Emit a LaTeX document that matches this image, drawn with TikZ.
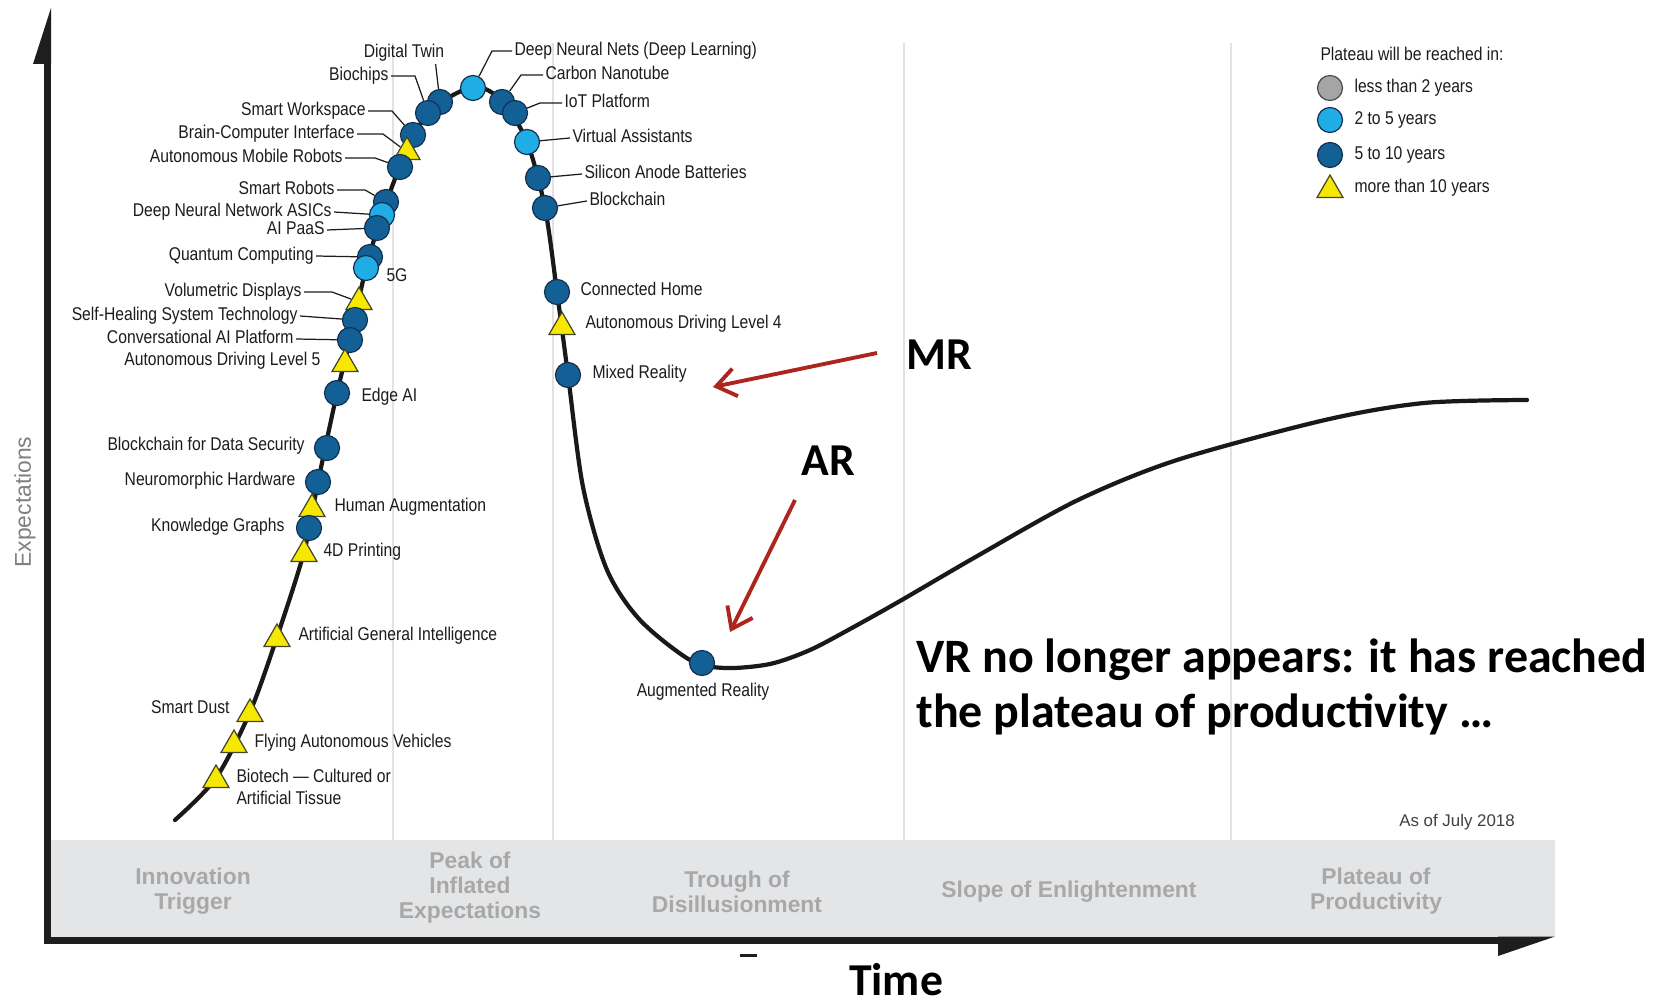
\documentclass[tikz,border=0pt]{standalone}
\usepackage{fontspec}
\setmainfont{Liberation Sans}
\newfontfamily\narrowfont[FakeStretch=0.85]{Liberation Sans}
\newfontfamily\calfont{Carlito}
\usetikzlibrary{shapes.geometric,arrows.meta,calc}
\pgfdeclarelayer{bg}
\pgfsetlayers{bg,main}

\definecolor{dkblue}{RGB}{18,96,150}
\definecolor{ltblue}{RGB}{32,172,228}
\definecolor{mkline}{RGB}{20,50,80}
\definecolor{triyel}{RGB}{246,232,0}
\definecolor{triline}{RGB}{70,70,40}
\definecolor{legray}{RGB}{165,165,165}
\definecolor{labgray}{RGB}{28,28,28}
\definecolor{phasegray}{RGB}{168,168,168}
\definecolor{bandgray}{RGB}{228,229,231}
\definecolor{gridgray}{RGB}{226,226,226}
\definecolor{arrowred}{RGB}{172,38,30}
\definecolor{axisblack}{RGB}{30,30,30}

\tikzset{
  dot/.style={circle, draw=mkline, line width=0.7pt, minimum size=0.5cm, inner sep=0pt},
  dk/.style={dot, fill=dkblue},
  lt/.style={dot, fill=ltblue},
  gy/.style={dot, fill=legray, draw=black!70},
  tri/.style={regular polygon, regular polygon sides=3, draw=triline, fill=triyel,
    line width=0.7pt, minimum size=0.6cm, inner sep=0pt},
  lab/.style={font=\narrowfont\fontsize{10.5}{12}\selectfont, text=labgray,
    inner sep=0pt, outer sep=0.05cm},
  labL/.style={lab, anchor=mid east},
  labR/.style={lab, anchor=mid west},
  lead/.style={draw=labgray, line width=0.7pt},
  phase/.style={font=\bfseries\fontsize{13}{14.2}\selectfont, text=phasegray, align=center},
  big/.style={font=\calfont\bfseries\fontsize{26}{31}\selectfont, inner sep=0pt},
  bigger/.style={font=\calfont\bfseries\fontsize{27.3}{33}\selectfont, inner sep=0pt},
  hype/.style={draw=black!90, line width=2.4pt, line join=round, line cap=round},
  redarr/.style={draw=arrowred, line width=2.2pt,
    -{Straight Barb[length=11pt,width=16pt]}},
  vline/.style={draw=gridgray, line width=0.8pt},
}

\begin{document}
\begin{tikzpicture}[x=0.02cm, y=-0.02cm]
\useasboundingbox (0,0) rectangle (1655,1006);

% ---- technology markers (upper ones first, lower ones overlap them) ----
\node[dk]  (mDT)       at (440,102) {};
\node[dk]  (mBiochips) at (428,113) {};
\node[dk]  (mSW)       at (413,135) {};
\node[tri] (mBCI)      at (407,152) {};
\node[dk]  (mAMR)      at (400,167) {};
\node[dk]  (mSR)       at (386,202) {};
\node[lt]  (mASICs)    at (382,215) {};
\node[dk]  (mAIPaaS)   at (377,228) {};
\node[dk]  (mQC)       at (370,257) {};
\node[lt]  (m5G)       at (366,268) {};
\node[tri] (mVD)       at (359,302) {};
\node[dk]  (mSH)       at (355,320) {};
\node[dk]  (mConv)     at (350,340) {};
\node[tri] (mADL5)     at (345,364) {};
\node[dk]  (mEdge)     at (337,393) {};
\node[dk]  (mBDS)      at (327,448) {};
\node[dk]  (mNH)       at (318,482) {};
\node[tri] (mHA)       at (312,509) {};
\node[dk]  (mKG)       at (309,528) {};
\node[tri] (m4D)       at (304,554) {};
\node[tri] (mAGI)      at (277,639) {};
\node[tri] (mSD)       at (250,714) {};
\node[tri] (mFly)      at (234,745) {};
\node[tri] (mBio)      at (216,780) {};

\node[lt]  (mDNN)      at (473,88) {};
\node[dk]  (mCN)       at (502,102) {};
\node[dk]  (mIoT)      at (515,113) {};
\node[lt]  (mVA)       at (527,142) {};
\node[dk]  (mSAB)      at (538,178) {};
\node[dk]  (mBC)       at (545,208) {};
\node[dk]  (mCH)       at (557,292) {};
\node[tri] (mADL4)     at (562,327) {};
\node[dk]  (mMR)       at (568,375) {};
\node[dk]  (mAR)       at (702,663) {};

% ---- technology labels ----
\node[lab]  (lDT)       at (404,53)  {Digital Twin};
\node[labL] (lBiochips) at (391,76)  {Biochips};
\node[labL] (lSW)       at (368,111) {Smart Workspace};
\node[labL] (lBCI)      at (357,134) {Brain-Computer Interface};
\node[labL] (lAMR)      at (345,158) {Autonomous Mobile Robots};
\node[labL] (lSR)       at (337,190) {Smart Robots};
\node[labL] (lASICs)    at (334,212) {Deep Neural Network ASICs};
\node[labL] (lAIPaaS)   at (327,230) {AI PaaS};
\node[labL] (lQC)       at (316,256) {Quantum Computing};
\node[labR] (l5G)       at (384,277) {5G};
\node[labL] (lVD)       at (304,292) {Volumetric Displays};
\node[labL] (lSH)       at (300,316) {Self-Healing System Technology};
\node[labL] (lConv)     at (296,339) {Conversational AI Platform};
\node[labL] (lADL5)     at (323,361) {Autonomous Driving Level 5};
\node[labR] (lEdge)     at (359,397) {Edge AI};
\node[labL] (lBDS)      at (307,446) {Blockchain for Data Security};
\node[labL] (lNH)       at (298,481) {Neuromorphic Hardware};
\node[labR] (lHA)       at (332,507) {Human Augmentation};
\node[labL] (lKG)       at (287,527) {Knowledge Graphs};
\node[labR] (l4D)       at (321,552) {4D Printing};
\node[labR] (lAGI)      at (296,636) {Artificial General Intelligence};
\node[labL] (lSD)       at (232,709) {Smart Dust};
\node[labR] (lFly)      at (252,743) {Flying Autonomous Vehicles};
\node[labR] (lBio)      at (234,778) {Biotech — Cultured or};
\node[labR] (lBio2)     at (234,800) {Artificial Tissue};

\node[labR] (lDNN)      at (512,51)  {Deep Neural Nets (Deep Learning)};
\node[labR] (lCN)       at (543,75)  {Carbon Nanotube};
\node[labR] (lIoT)      at (562,103) {IoT Platform};
\node[labR] (lVA)       at (570,138) {Virtual Assistants};
\node[labR] (lSAB)      at (582,174) {Silicon Anode Batteries};
\node[labR] (lBC)       at (587,201) {Blockchain};
\node[labR] (lCH)       at (578,291) {Connected Home};
\node[labR] (lADL4)     at (583,324) {Autonomous Driving Level 4};
\node[labR] (lMR)       at (590,374) {Mixed Reality};
\node[lab]  (lAR)       at (703,692) {Augmented Reality};

% ---- legend ----
\node[labR] (legT) at (1318,56) {Plateau will be reached in:};
\node[gy]  (lg1) at (1330,88)  {};
\node[lt]  (lg2) at (1330,120) {};
\node[dk]  (lg3) at (1330,155) {};
\node[tri] (lg4) at (1330,190) {};
\node[labR] (lgt1) at (1352,88)  {less than 2 years};
\node[labR] (lgt2) at (1352,120) {2 to 5 years};
\node[labR] (lgt3) at (1352,155) {5 to 10 years};
\node[labR] (lgt4) at (1352,188) {more than 10 years};

% ---- phases and axis texts ----
\node[phase] (ph1) at (193,891)  {Innovation\\Trigger};
\node[phase] (ph2) at (470,888)  {Peak of\\Inflated\\Expectations};
\node[phase] (ph3) at (737,892)  {Trough of\\Disillusionment};
\node[phase] (ph4) at (1069,892) {Slope of Enlightenment};
\node[phase] (ph5) at (1376,891) {Plateau of\\Productivity};
\node[font=\fontsize{9.6}{11}\selectfont, text=black!75, anchor=mid east, inner sep=0pt]
  (asof) at (1515,822) {As of July 2018};
\node[font=\fontsize{13}{15}\selectfont, text=black!50, rotate=90, inner sep=0pt]
  (ylab) at (25,502) {Expectations};
\node[big] (time) at (896,980) {Time};

% ---- annotations ----
\node[big, anchor=west] (tMR) at (906,355) {MR};
\node[big, anchor=west] (tAR) at (801,461) {AR};
\node[bigger, anchor=base west] (vr1) at (916,672) {VR no longer appears: it has reached};
\node[bigger, anchor=base west] (vr2) at (916,727) {the plateau of productivity …};
\coordinate (cMRtail) at (877,353);
\coordinate (cMRtip)  at (713,387);
\coordinate (cARtail) at (795,500);
\coordinate (cARtip)  at (730,632);
\draw[redarr] (cMRtail) -- (cMRtip);
\draw[redarr] (cARtail) -- (cARtip);

\begin{pgfonlayer}{bg}
  \fill[white] (0,0) rectangle (1655,1006);
  % phase separators
  \foreach \gx in {393,553,904,1231} \draw[vline] (\gx,43) -- (\gx,840);
  % phase band
  \fill[bandgray] (50,840) rectangle (1555,937);
  % axes
  \fill[axisblack] (44,62) rectangle (51,943.5);
  \fill[axisblack] (51,8) -- (51,64) -- (33,64) -- cycle;
  \fill[axisblack] (44,936.5) rectangle (1500,943.5);
  \fill[axisblack] (1498,936.5) -- (1555,936.5) -- (1498,956) -- cycle;
  \fill[axisblack] (740,954) rectangle (757,957);
  % hype cycle curve
  \draw[hype] plot[smooth, tension=0.5] coordinates {
    (175,820) (216,778) (250,712) (277,637) (304,552) (318,482) (337,393)
    (350,340) (366,268) (382,215) (400,167) (428,113) (473,87) (502,101)
    (527,142) (545,208) (557,292) (568,375) (583,487) (607,570) (640,620)
    (690,660) (725,668) (770,664) (810,650) (850,629) (900,601) (979,555)
    (1078,500) (1177,460) (1325,420) (1424,403) (1527,400)};
  % leader lines
  \draw[lead] ($(lDT.south east)+(-11,0)$) -- (mDT);
  \draw[lead] (lBiochips.mid east) -- ++(24,0) -- (mBiochips);
  \draw[lead] (lSW.mid east) -- ++(24,0) -- (mSW);
  \draw[lead] (lBCI.mid east) -- ++(26,0) -- (mBCI);
  \draw[lead] (lAMR.mid east) -- ++(30,0) -- (mAMR);
  \draw[lead] (lSR.mid east) -- ++(28,0) -- (mSR);
  \draw[lead] (lASICs.mid east) -- (mASICs);
  \draw[lead] (lAIPaaS.mid east) -- (mAIPaaS);
  \draw[lead] (lQC.mid east) -- (mQC);
  \draw[lead] (lVD.mid east) -- ++(28,0) -- (mVD);
  \draw[lead] (lSH.mid east) -- (mSH);
  \draw[lead] (lConv.mid east) -- (mConv);
  \draw[lead] (lDNN.mid west) -- ++(-20,0) -- (mDNN);
  \draw[lead] (lCN.mid west) -- ++(-22,0) -- (mCN);
  \draw[lead] (lIoT.mid west) -- ++(-22,0) -- (mIoT);
  \draw[lead] (lVA.mid west) -- (mVA);
  \draw[lead] (lSAB.mid west) -- (mSAB);
  \draw[lead] (lBC.mid west) -- (mBC);
\end{pgfonlayer}
\end{tikzpicture}
\end{document}
